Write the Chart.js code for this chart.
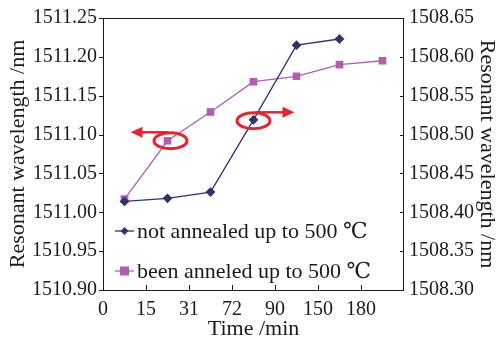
<!DOCTYPE html>
<html><head><meta charset="utf-8">
<script src="https://cdn.jsdelivr.net/npm/chart.js@4"></script>
<style>html,body{margin:0;padding:0;background:#fff}canvas{display:block}</style>
</head><body>
<canvas id="c" width="500" height="342"></canvas>
<script>
const timeLabels = ['0','15','31','72','90','150','180'];
const notAnnealed = [1508.414, 1508.418, 1508.426, 1508.519, 1508.615, 1508.623];
const beenAnnealed = [1511.017, 1511.092, 1511.129, 1511.168, 1511.175, 1511.190, 1511.195];
const leftTicks = [1510.90,1510.95,1511.00,1511.05,1511.10,1511.15,1511.20,1511.25];
const rightTicks = [1508.30,1508.35,1508.40,1508.45,1508.50,1508.55,1508.60,1508.65];
const seriesNames = ['not annealed up to 500 \u2103','been anneled up to 500 \u2103'];

const BLUE = '#2e3272', PURPLE = '#b25db2', RED = '#e8232a', INK = '#1a1a1a';
const FONT = '"Liberation Serif", "Times New Roman", "DejaVu Serif", serif';

const toPts = arr => arr.map((v,i)=>({x:i+0.5,y:v}));

const framePlugin = {
  id:'frame',
  afterDraw(chart){
    const {ctx, chartArea:a, scales} = chart;
    ctx.save();
    ctx.strokeStyle = INK; ctx.lineWidth = 1;
    ctx.strokeRect(a.left+0.5, a.top+0.5, a.right-a.left-1, a.bottom-a.top);
    ctx.beginPath();
    scales.x.ticks.forEach((t,i)=>{ if(i===0||i>=timeLabels.length) return;
      const x = Math.round(scales.x.getPixelForValue(t.value))+0.5;
      ctx.moveTo(x, a.bottom); ctx.lineTo(x, a.bottom-5); });
    leftTicks.forEach(v=>{ const y=Math.round(scales.y.getPixelForValue(v))+0.5;
      ctx.moveTo(a.left-4, y); ctx.lineTo(a.left+0.5, y); });
    rightTicks.forEach(v=>{ const y=Math.round(scales.y2.getPixelForValue(v))+0.5;
      ctx.moveTo(a.right-4, y); ctx.lineTo(a.right, y); });
    ctx.stroke();
    ctx.restore();
  }
};

function arrow(ctx, x1, y, x2){
  const dir = Math.sign(x2-x1);
  ctx.beginPath(); ctx.moveTo(x1,y); ctx.lineTo(x2-dir*8,y); ctx.stroke();
  ctx.beginPath(); ctx.moveTo(x2,y); ctx.lineTo(x2-dir*12,y-5.5); ctx.lineTo(x2-dir*12,y+5.5); ctx.closePath(); ctx.fill();
}

const notePlugin = {
  id:'notes',
  afterDatasetsDraw(chart){
    const {ctx} = chart;
    const p = chart.getDatasetMeta(1).data[1];
    const b = chart.getDatasetMeta(0).data[3];
    ctx.save();
    ctx.strokeStyle = RED; ctx.fillStyle = RED; ctx.lineWidth = 3;
    ctx.beginPath(); ctx.ellipse(p.x+3, p.y, 16.5, 8, 0, 0, Math.PI*2); ctx.stroke();
    ctx.lineWidth = 2.5;
    arrow(ctx, p.x+1, p.y-8.5, p.x-37);
    ctx.lineWidth = 3;
    ctx.beginPath(); ctx.ellipse(b.x, b.y+1, 16.5, 8, 0, 0, Math.PI*2); ctx.stroke();
    ctx.lineWidth = 2.5;
    arrow(ctx, b.x+2, b.y-7.5, b.x+41);
    ctx.restore();
  }
};

const legendPlugin = {
  id:'legendIn',
  afterDatasetsDraw(chart){
    const {ctx, chartArea:a} = chart;
    ctx.save();
    ctx.font = '22px ' + FONT;
    ctx.textBaseline = 'middle';
    chart.data.datasets.forEach((ds,i)=>{
      const y = [231, 271][i];
      const x0 = a.left+12, x1 = a.left+31, mx = a.left+21.5;
      ctx.strokeStyle = ds.borderColor; ctx.lineWidth = 1.3;
      ctx.beginPath(); ctx.moveTo(x0,y); ctx.lineTo(x1,y); ctx.stroke();
      ctx.fillStyle = ds.pointBackgroundColor;
      if(ds.pointStyle==='rectRot'){
        ctx.beginPath(); ctx.moveTo(mx,y-4); ctx.lineTo(mx+4,y); ctx.lineTo(mx,y+4); ctx.lineTo(mx-4,y); ctx.closePath(); ctx.fill();
      } else { ctx.fillRect(mx-4.5,y-4.5,9,9); }
      ctx.fillStyle = INK;
      ctx.fillText(ds.label, a.left+34, y+1);
    });
    ctx.restore();
  }
};

new Chart(document.getElementById('c'), {
  type:'line',
  data:{ datasets:[
    {label:seriesNames[0], data:toPts(notAnnealed), yAxisID:'y2', borderColor:BLUE, backgroundColor:BLUE,
     pointBackgroundColor:BLUE, pointBorderColor:BLUE, pointStyle:'rectRot', pointRadius:4, borderWidth:1.3, order:0},
    {label:seriesNames[1], data:toPts(beenAnnealed), yAxisID:'y', borderColor:PURPLE, backgroundColor:PURPLE,
     pointBackgroundColor:PURPLE, pointBorderColor:PURPLE, pointStyle:'rect', pointRadius:4.5, borderWidth:1.3, order:1}
  ]},
  options:{
    responsive:false, animation:false, devicePixelRatio:1,
    layout:{padding:{top:17,left:0,right:0,bottom:0}},
    plugins:{legend:{display:false}, tooltip:{enabled:false}},
    scales:{
      x:{type:'linear', min:0, max:7, position:'bottom',
        afterBuildTicks(s){ s.ticks = [0,1,2,3,4,5,6,7].map(v=>({value:v})); },
        afterFit(s){ s.height = 52; },
        grid:{display:false, drawTicks:false}, border:{display:false},
        ticks:{autoSkip:false, maxRotation:0, padding:8, color:INK, font:{family:FONT,size:20},
          callback:(v)=> timeLabels[v] !== undefined ? timeLabels[v] : ''},
        title:{display:true, text:'Time /min', color:INK, font:{family:FONT,size:22}, padding:{top:0,bottom:0}}},
      y:{type:'linear', position:'left', min:1510.90, max:1511.25,
        afterBuildTicks(s){ s.ticks = leftTicks.map(v=>({value:v})); },
        afterFit(s){ s.width = 103; },
        grid:{display:false, drawTicks:false}, border:{display:false},
        ticks:{padding:6, color:INK, font:{family:FONT,size:20}, callback:v=>v.toFixed(2)},
        title:{display:true, text:'Resonant wavelength /nm', color:INK, font:{family:FONT,size:22}, padding:{top:5,bottom:0}}},
      y2:{type:'linear', position:'right', min:1508.30, max:1508.65,
        afterBuildTicks(s){ s.ticks = rightTicks.map(v=>({value:v})); },
        afterFit(s){ s.width = 96; },
        grid:{display:false, drawTicks:false}, border:{display:false},
        ticks:{padding:5, color:INK, font:{family:FONT,size:20}, callback:v=>v.toFixed(2)},
        title:{display:true, text:'Resonant wavelength /nm', color:INK, font:{family:FONT,size:22}, padding:{top:0,bottom:0}}}
    }
  },
  plugins:[framePlugin, notePlugin, legendPlugin]
});
</script>
</body></html>
